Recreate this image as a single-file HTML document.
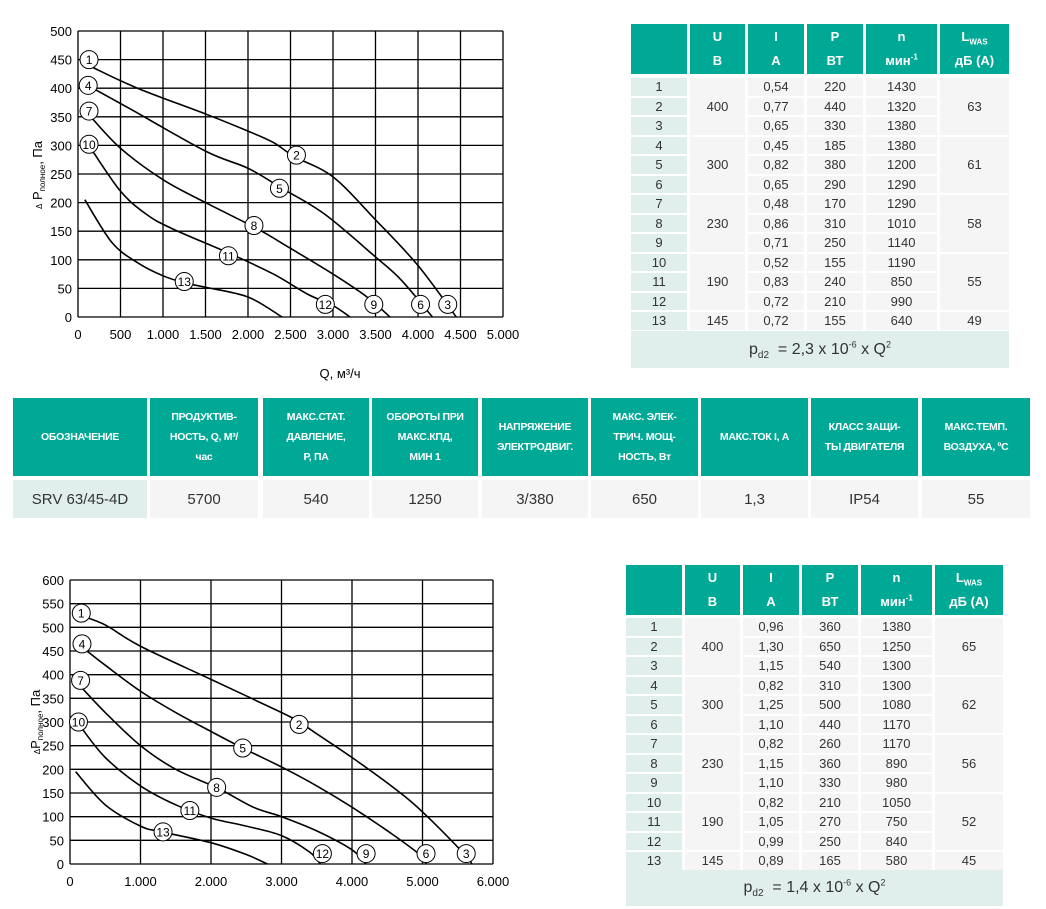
<!DOCTYPE html>
<html><head><meta charset="utf-8"><style>
body{margin:0;width:1046px;height:909px;background:#fff;position:relative;overflow:hidden;font-family:"Liberation Sans",sans-serif}
.c{position:absolute;display:flex;align-items:center;justify-content:center;text-align:center;box-sizing:border-box}
.h{background:#00a995;color:#fff;font-weight:bold}
.l{background:#e0efec;color:#333}
.d{background:#f5f5f5;color:#333}
svg{position:absolute;left:0;top:0}
sup,sub{line-height:0}
</style></head><body>
<svg id="s" width="1046" height="909" font-family="Liberation Sans, sans-serif"></svg>
<div id="t"></div>
<script>
var S=document.getElementById('s'),T=document.getElementById('t'),svg='',html='';
function chart(x0,x1,yb,yt,qmax,qstep,pmax,pstep,curves,labels,xfmt){
 var sx=(x1-x0)/qmax,sy=(yb-yt)/pmax;
 for(var q=0;q<=qmax;q+=qstep){var x=x0+q*sx;svg+='<line x1="'+x+'" y1="'+yt+'" x2="'+x+'" y2="'+yb+'" stroke="#000" stroke-width="1.3"/>';
  svg+='<text x="'+x+'" y="'+(yb+22)+'" font-size="13" text-anchor="middle">'+xfmt(q)+'</text>';}
 for(var p=0;p<=pmax;p+=pstep){var y=yb-p*sy;svg+='<line x1="'+x0+'" y1="'+y+'" x2="'+x1+'" y2="'+y+'" stroke="#000" stroke-width="1.3"/>';
  svg+='<text x="'+(x0-6)+'" y="'+(y+5)+'" font-size="13" text-anchor="end">'+p+'</text>';}
 curves.forEach(function(c){var pts=c.map(function(a){return [x0+a[0]*sx,yb-a[1]*sy]});
  var d='M'+pts[0][0]+','+pts[0][1];
  for(var i=0;i<pts.length-1;i++){var p0=pts[Math.max(i-1,0)],p1=pts[i],p2=pts[i+1],p3=pts[Math.min(i+2,pts.length-1)];
   d+=' C'+(p1[0]+(p2[0]-p0[0])/6)+','+(p1[1]+(p2[1]-p0[1])/6)+' '+(p2[0]-(p3[0]-p1[0])/6)+','+(p2[1]-(p3[1]-p1[1])/6)+' '+p2[0]+','+p2[1];}
  svg+='<path d="'+d+'" fill="none" stroke="#000" stroke-width="1.6"/>';});
 labels.forEach(function(l){var x=x0+l[1]*sx,y=yb-l[2]*sy;
  svg+='<circle cx="'+x+'" cy="'+y+'" r="9" fill="#fff" stroke="#000" stroke-width="1"/><text x="'+x+'" y="'+(y+4.5)+'" font-size="12" text-anchor="middle">'+l[0]+'</text>';});
}
chart(78,503,317,31,5000,500,500,50,[
[[150,438],[700,400],[1500,355],[2000,325],[2300,305],[2550,280],[3000,245],[3500,170],[4000,90],[4450,0]],
[[150,402],[600,365],[1500,290],[2000,260],[2400,225],[2900,180],[3500,105],[3800,65],[4170,0]],
[[150,350],[500,295],[1000,240],[1500,200],[2100,155],[2500,120],[3000,75],[3400,35],[3670,0]],
[[150,295],[500,220],[800,180],[1100,155],[1800,110],[2300,75],[2700,40],[3000,20],[3200,0]],
[[80,205],[400,130],[700,95],[1000,72],[1250,60],[1500,52],[2000,35],[2400,0]]],
[[1,130,450],[4,120,405],[7,130,360],[10,130,302],[2,2570,283],[5,2370,225],[8,2070,160],[11,1770,107],[13,1250,62],[12,2910,22],[9,3480,22],[6,4030,22],[3,4350,22]],
function(q){return q==0?'0':q<1000?q:(Math.floor(q/1000)+'.'+String(q%1000).padStart(3,'0'))});
chart(70,493,864,580,6000,1000,600,50,[
[[150,525],[500,505],[1000,460],[2000,390],[3000,320],[3250,300],[3500,275],[4000,225],[4600,160],[5000,110],[5600,20],[5700,0]],
[[200,455],[500,420],[1000,365],[1500,320],[2000,280],[2450,245],[3000,205],[3500,165],[4000,120],[4600,60],[5000,15],[5050,0]],
[[150,375],[500,320],[1000,250],[1500,200],[2100,160],[2600,120],[3000,100],[3500,70],[4000,30],[4200,0]],
[[150,290],[500,225],[1000,165],[1500,125],[2000,97],[2500,80],[3000,60],[3400,25],[3550,0]],
[[80,195],[500,125],[1000,80],[1300,68],[2000,45],[2500,20],[2800,0]]],
[[1,160,530],[4,170,465],[7,150,388],[10,120,300],[2,3250,295],[5,2450,245],[8,2080,162],[11,1700,113],[13,1320,68],[12,3580,22],[9,4200,22],[6,5050,22],[3,5620,22]],
function(q){return q==0?'0':(q/1000)+'.000'});
svg+='<text transform="translate(42,175) rotate(-90)" font-size="13" text-anchor="middle"><tspan font-size="8">Δ</tspan> P<tspan font-size="8" dy="3">полное</tspan><tspan dy="-3">, Па</tspan></text>';
svg+='<text transform="translate(40,722) rotate(-90)" font-size="13" text-anchor="middle"><tspan font-size="8">Δ</tspan>P<tspan font-size="8" dy="3">полное</tspan><tspan dy="-3">, Па</tspan></text>';
svg+='<text x="340" y="378" font-size="13" text-anchor="middle">Q, м³/ч</text>';
svg+='<text x="320" y="919" font-size="13" text-anchor="middle">Q, м³/ч</text>';
S.innerHTML=svg;
function cell(x,y,w,h,cls,txt,fs){html+='<div class="c '+cls+'" style="left:'+x+'px;top:'+y+'px;width:'+w+'px;height:'+h+'px;font-size:'+(fs||13)+'px"><span>'+txt+'</span></div>';}
function tbl(X,Y,rowsY,rowH,cols,data,formula,fy,fh){
 var hd=['','U<br><br>В','I<br><br>А','P<br><br>ВТ','n<br><br>мин<sup style="font-size:8px">-1</sup>','L<sub style="font-size:8px">WAS</sub><br><br>дБ (А)'];
 cols.forEach(function(c,i){html+='<div class="c h" style="left:'+c[0]+'px;top:'+Y+'px;width:'+(c[1]-c[0])+'px;height:50px;font-size:13px;line-height:12px"><span>'+hd[i]+'</span></div>';});
 for(var r=0;r<13;r++){var y=rowsY+r*rowH;cell(cols[0][0],y,cols[0][1]-cols[0][0],rowH-2,'l',r+1);
  for(var k=0;k<3;k++)cell(cols[2+k][0],y,cols[2+k][1]-cols[2+k][0],rowH-2,'d',data[r][k]);}
 var g=[[0,3],[3,3],[6,3],[9,3],[12,1]];
 g.forEach(function(gg,i){var y=rowsY+gg[0]*rowH,h=gg[1]*rowH-2;cell(cols[1][0],y,cols[1][1]-cols[1][0],h,'d',data.U[i]);cell(cols[5][0],y,cols[5][1]-cols[5][0],h,'d',data.L[i]);});
 cell(cols[0][0],fy,cols[5][1]-cols[0][0],fh,'l',formula,16);
}
var d1=[['0,54',220,1430],['0,77',440,1320],['0,65',330,1380],['0,45',185,1380],['0,82',380,1200],['0,65',290,1290],['0,48',170,1290],['0,86',310,1010],['0,71',250,1140],['0,52',155,1190],['0,83',240,850],['0,72',210,990],['0,72',155,640]];
d1.U=[400,300,230,190,145];d1.L=[63,61,58,55,49];
tbl(631,24,78,19.5,[[631,687],[690,745],[748,804],[807,863],[866,937],[940,1009]],d1,'p<sub style="font-size:10px">d2</sub>&nbsp; = 2,3 x 10<sup style="font-size:9px">-6</sup> x Q<sup style="font-size:9px">2</sup>',331,37);
var d2=[['0,96',360,1380],['1,30',650,1250],['1,15',540,1300],['0,82',310,1300],['1,25',500,1080],['1,10',440,1170],['0,82',260,1170],['1,15',360,890],['1,10',330,980],['0,82',210,1050],['1,05',270,750],['0,99',250,840],['0,89',165,580]];
d2.U=[400,300,230,190,145];d2.L=[65,62,56,52,45];
tbl(626,565,618,19.5,[[626,682],[685,740],[743,799],[802,858],[861,932],[935,1003]],d2,'p<sub style="font-size:10px">d2</sub>&nbsp; = 1,4 x 10<sup style="font-size:9px">-6</sup> x Q<sup style="font-size:9px">2</sup>',870,36);
var mc=[[13,147],[150,258],[263,369],[372,478],[482,588],[591,698],[701,808],[811,918],[922,1030]];
var mh=['ОБОЗНАЧЕНИЕ','ПРОДУКТИВ-<br>НОСТЬ, Q, М³/<br>час','МАКС.СТАТ.<br>ДАВЛЕНИЕ,<br>Р, ПА','ОБОРОТЫ ПРИ<br>МАКС.КПД,<br>МИН 1','НАПРЯЖЕНИЕ<br>ЭЛЕКТРОДВИГ.','МАКС. ЭЛЕК-<br>ТРИЧ. МОЩ-<br>НОСТЬ, Вт','МАКС.ТОК I, А','КЛАСС ЗАЩИ-<br>ТЫ ДВИГАТЕЛЯ','МАКС.ТЕМП.<br>ВОЗДУХА, ºС'];
var md=['SRV 63/45-4D',5700,540,1250,'3/380',650,'1,3','IP54',55];
mc.forEach(function(c,i){html+='<div class="c h" style="left:'+c[0]+'px;top:398px;width:'+(c[1]-c[0])+'px;height:78px;font-size:10.5px;line-height:20px;letter-spacing:-0.3px"><span>'+mh[i]+'</span></div>';
 cell(c[0],480,c[1]-c[0],38,i==0?'l':'d',md[i],15);});
T.innerHTML=html;
</script>
</body></html>
